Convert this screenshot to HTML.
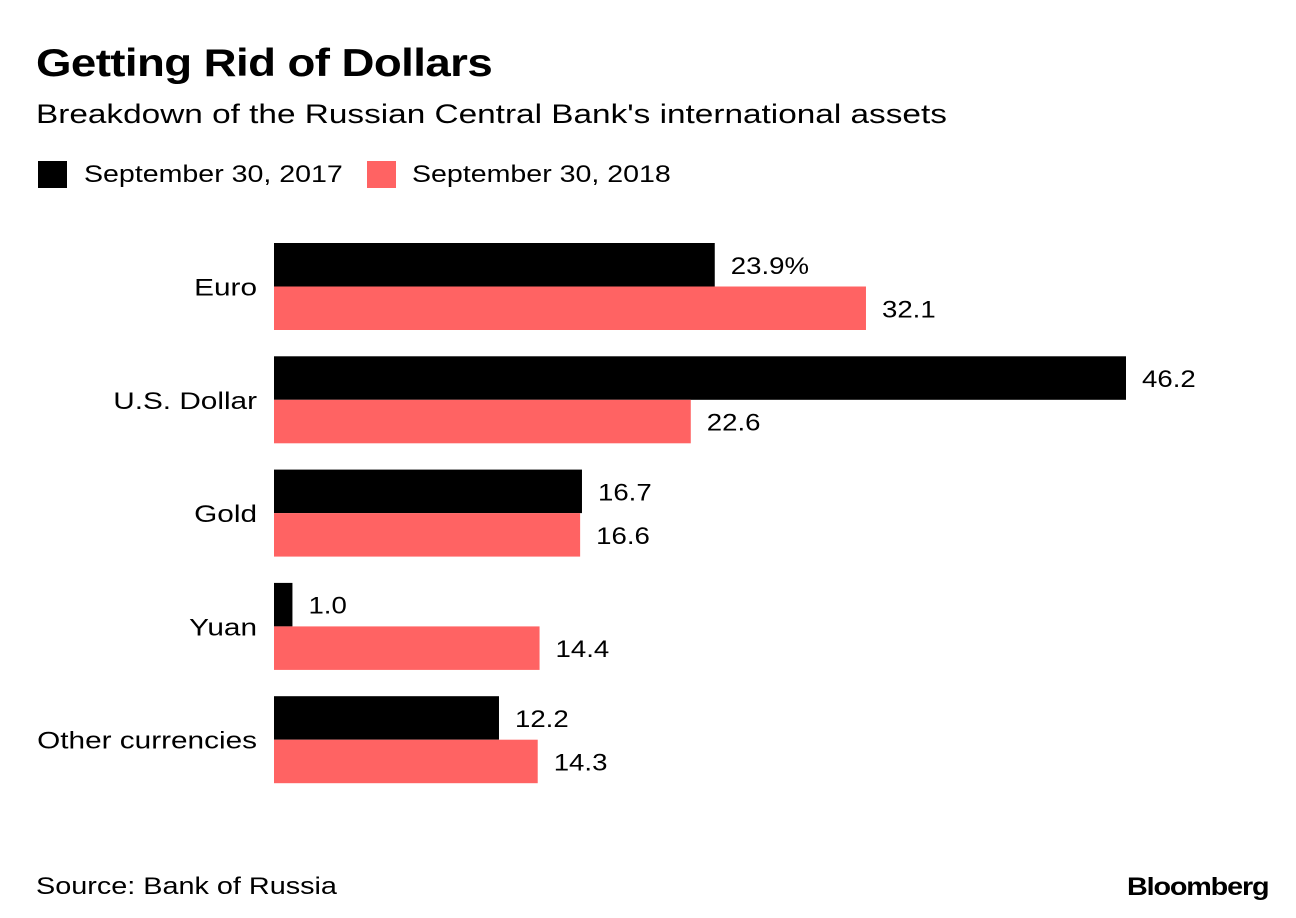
<!DOCTYPE html>
<html><head><meta charset="utf-8"><style>
body{margin:0;background:#fff;font-family:"Liberation Sans",Arial,sans-serif;}
#wrap{position:relative;width:1296px;height:918px;overflow:hidden;}
.t{position:absolute;white-space:nowrap;color:#000;transform-origin:0 0;}
</style></head><body>
<div id="wrap">
<div class="t" style="left:36px;top:42px;font-size:39px;font-weight:bold;letter-spacing:-0.5px;transform:scaleX(1.17)">Getting Rid of Dollars</div>
<div class="t" style="left:36px;top:99px;font-size:27px;transform:scaleX(1.235)">Breakdown of the Russian Central Bank's international assets</div>
<div style="position:absolute;left:38px;top:161px;width:29px;height:27px;background:#000"></div>
<div class="t" style="left:84px;top:161px;font-size:24px;transform:scaleX(1.19)">September 30, 2017</div>
<div style="position:absolute;left:367px;top:161px;width:29px;height:27px;background:#ff6363"></div>
<div class="t" style="left:412px;top:161px;font-size:24px;transform:scaleX(1.19)">September 30, 2018</div>
<svg id="chart" width="1296" height="918" style="position:absolute;left:0;top:0"></svg>
<div class="t" style="left:36px;top:873px;font-size:24px;transform:scaleX(1.2)">Source: Bank of Russia</div>
<div class="t" style="left:1127px;top:873px;font-size:25px;font-weight:bold;letter-spacing:-1px;transform:scaleX(1.15)">Bloomberg</div>
</div>
<script>
const categories=["Euro","U.S. Dollar","Gold","Yuan","Other currencies"];
const values2017=[23.9,46.2,16.7,1.0,12.2];
const values2018=[32.1,22.6,16.6,14.4,14.3];
const labels2017=["23.9%","46.2","16.7","1.0","12.2"];
const labels2018=["32.1","22.6","16.6","14.4","14.3"];
const svg=document.getElementById('chart');
const NS='http://www.w3.org/2000/svg';
const x0=274, scale=852/46.2;
const xs=v=>x0+v*scale;
const yTop=i=>243+i*113.3;
const bh=43.5;
function mk(tag,attrs){const e=document.createElementNS(NS,tag);for(const k in attrs)e.setAttribute(k,attrs[k]);svg.appendChild(e);return e;}
function txt(x,y,anchor,s){return mk('text',{x:0,y:0,'text-anchor':anchor,'font-size':24,'font-family':'Liberation Sans, Arial, sans-serif',transform:'translate('+x+','+y+') scale('+s+',1)'});}
categories.forEach((c,i)=>{
  const y=yTop(i);
  const cl=txt(257,y+bh+9,'end',1.24);
  cl.textContent=c;
  
  
  const b1=mk('rect',{x:x0,y:y,width:xs(values2017[i])-x0,height:bh,fill:'#000'});
  
  
  const b2=mk('rect',{x:x0,y:y+bh,width:xs(values2018[i])-x0,height:bh,fill:'#ff6363'});
  
  
  const l1=txt(xs(values2017[i])+16,y+bh/2+9,'start',1.15);
  l1.textContent=labels2017[i];
  
  
  const l2=txt(xs(values2018[i])+16,y+bh*1.5+9,'start',1.15);
  l2.textContent=labels2018[i];
  
  
});
</script>
</body></html>
